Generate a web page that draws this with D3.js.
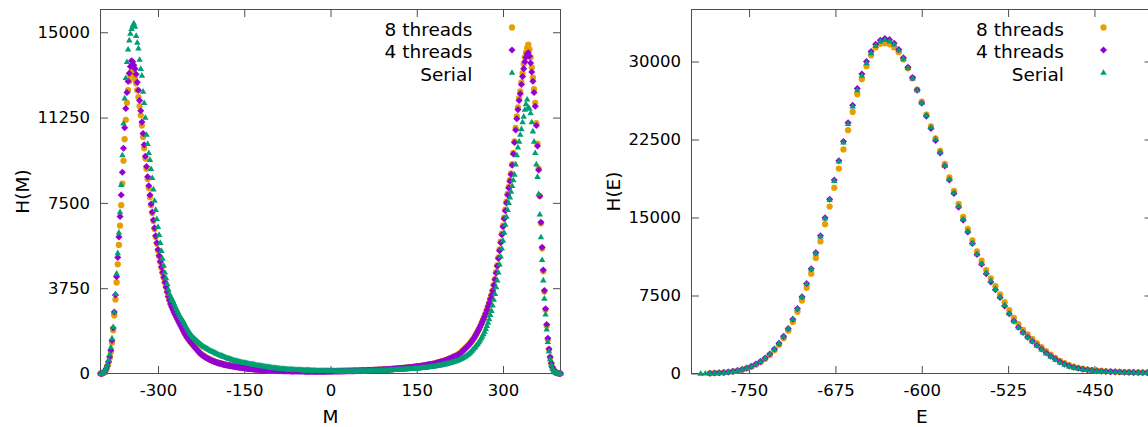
<!DOCTYPE html>
<html><head><meta charset="utf-8">
<script src="https://cdn.jsdelivr.net/npm/d3@7"></script>
<style>
body{margin:0;background:#fff}
svg{display:block}
text{font-family:"DejaVu Sans",sans-serif;fill:#000}
</style>
</head><body>
<svg id="chart" width="1148" height="427"></svg>
<script>
// ---------------- data ----------------
const SERIES_NAMES = ["8 threads", "4 threads", "Serial"];
const SERIES_COLORS = ["#e69f00", "#9400d3", "#009e73"];

const M_VALUES = d3.range(-400, 401, 2);

const H_M_8THREADS = [
  0, 3, 12, 40, 95, 190, 320, 480, 680, 950,
  1350, 1900, 2550, 3250, 4000, 4800, 5650, 6500, 7400, 8350,
  9350, 10300, 11150, 11900, 12450, 12850, 13100, 13300, 13250, 13100,
  12950, 12750, 12450, 12150, 11750, 11350, 10900, 10400, 9900, 9450,
  9000, 8550, 8150, 7750, 7400, 7050, 6700, 6350, 6000, 5700,
  5400, 5150, 4900, 4650, 4420, 4200, 3990, 3780, 3570, 3370,
  3200, 3060, 2930, 2810, 2700, 2600, 2500, 2400, 2300, 2200,
  2100, 2000, 1900, 1800, 1710, 1620, 1550, 1480, 1410, 1350,
  1290, 1230, 1170, 1110, 1050, 990, 930, 880, 840, 800,
  765, 730, 700, 670, 645, 620, 595, 572, 550, 530,
  512, 495, 478, 462, 448, 435, 422, 410, 398, 387,
  376, 365, 355, 345, 336, 327, 318, 310, 302, 294,
  286, 278, 270, 262, 255, 248, 241, 234, 228, 222,
  216, 210, 205, 200, 195, 190, 185, 181, 177, 173,
  169, 166, 163, 160, 157, 154, 151, 149, 147, 145,
  143, 141, 139, 137, 135, 133, 131, 130, 129, 128,
  127, 126, 125, 124, 123, 122, 121, 120, 119, 118,
  117, 116, 115, 115, 114, 114, 113, 113, 112, 112,
  111, 111, 110, 110, 110, 109, 109, 109, 108, 108,
  106, 110, 107, 109, 105, 108, 111, 106, 109, 107,
  108, 110, 106, 111, 109, 108, 113, 110, 112, 115,
  115, 116, 117, 118, 119, 120, 121, 122, 123, 124,
  125, 126, 128, 129, 131, 132, 134, 135, 137, 138,
  140, 142, 144, 146, 148, 150, 152, 154, 156, 158,
  160, 162, 165, 167, 170, 172, 175, 177, 180, 182,
  185, 189, 193, 197, 201, 205, 209, 213, 217, 221,
  225, 230, 235, 240, 245, 250, 255, 260, 265, 270,
  275, 281, 288, 294, 301, 307, 314, 320, 327, 333,
  340, 349, 358, 368, 377, 386, 396, 406, 416, 425,
  435, 448, 462, 476, 490, 505, 520, 535, 550, 565,
  580, 600, 620, 642, 665, 688, 712, 736, 760, 780,
  800, 835, 870, 910, 955, 1000, 1050, 1100, 1150, 1200,
  1250, 1310, 1375, 1440, 1510, 1580, 1670, 1760, 1855, 1950,
  2050, 2160, 2280, 2400, 2520, 2650, 2800, 2950, 3110, 3280,
  3450, 3650, 3900, 4150, 4450, 4750, 5100, 5450, 5800, 6150,
  6500, 6850, 7200, 7550, 7900, 8200, 8500, 8800, 9200, 9700,
  10200, 10800, 11300, 11700, 12100, 12400, 12800, 13200, 13600, 13900,
  14100, 14300, 14450, 14250, 13900, 13450, 13000, 12500, 11900, 11000,
  10100, 9000, 7800, 6600, 5500, 4500, 3600, 2800, 2100, 1500,
  1050, 700, 440, 270, 160, 90, 45, 20, 8, 2,
  0
];

const H_M_4THREADS = [
  0, 4, 15, 45, 105, 205, 345, 520, 740, 1020,
  1450, 2000, 2700, 3450, 4250, 5100, 6000, 6900, 7850, 8850,
  9900, 10800, 11650, 12350, 12850, 13200, 13500, 13750, 13700, 13550,
  13400, 13150, 12800, 12450, 12000, 11550, 11050, 10550, 10050, 9550,
  9100, 8650, 8250, 7850, 7450, 7100, 6750, 6400, 6050, 5750,
  5450, 5180, 4920, 4680, 4450, 4230, 4010, 3800, 3590, 3390,
  3220, 3050, 2920, 2800, 2690, 2590, 2480, 2380, 2280, 2180,
  2080, 1980, 1880, 1785, 1695, 1605, 1535, 1465, 1395, 1335,
  1275, 1215, 1155, 1095, 1035, 975, 918, 868, 828, 790,
  755, 720, 690, 660, 635, 610, 585, 562, 540, 520,
  502, 485, 468, 452, 438, 425, 412, 400, 388, 377,
  366, 355, 345, 335, 326, 317, 308, 300, 292, 284,
  276, 268, 260, 252, 245, 238, 231, 224, 218, 212,
  206, 200, 195, 190, 185, 180, 175, 171, 167, 163,
  159, 156, 153, 150, 147, 144, 141, 138, 136, 134,
  132, 130, 128, 126, 124, 122, 120, 118, 116, 114,
  112, 110, 108, 107, 106, 105, 104, 103, 102, 101,
  100, 99, 98, 97, 96, 95, 95, 94, 94, 93,
  93, 92, 92, 92, 91, 91, 91, 91, 91, 91,
  91, 89, 92, 90, 93, 91, 94, 92, 95, 93,
  95, 96, 94, 98, 97, 99, 98, 101, 100, 102,
  103, 104, 105, 106, 107, 108, 109, 110, 111, 112,
  114, 115, 117, 118, 120, 122, 124, 126, 128, 130,
  132, 134, 136, 138, 140, 142, 144, 146, 148, 150,
  152, 155, 158, 161, 164, 167, 170, 173, 176, 179,
  182, 186, 190, 194, 198, 202, 206, 210, 214, 218,
  222, 226, 231, 236, 241, 246, 251, 256, 261, 266,
  271, 277, 283, 289, 296, 302, 308, 314, 321, 327,
  334, 343, 352, 361, 370, 379, 389, 399, 408, 417,
  427, 440, 454, 467, 481, 496, 510, 525, 540, 555,
  570, 590, 610, 632, 655, 678, 702, 725, 748, 768,
  790, 825, 860, 900, 945, 990, 1040, 1090, 1140, 1190,
  1240, 1300, 1365, 1430, 1500, 1570, 1660, 1750, 1845, 1940,
  2040, 2150, 2270, 2390, 2510, 2640, 2790, 2940, 3100, 3270,
  3440, 3640, 3880, 4130, 4420, 4720, 5060, 5400, 5750, 6100,
  6450, 6800, 7150, 7500, 7850, 8150, 8450, 8750, 9150, 9650,
  10150, 10700, 11200, 11600, 12000, 12300, 12700, 13050, 13400, 13700,
  13900, 14050, 14100, 13950, 13650, 13250, 12850, 12350, 11750, 10900,
  10000, 8950, 7800, 6650, 5550, 4550, 3650, 2850, 2150, 1550,
  1080, 720, 455, 280, 165, 92, 46, 21, 8, 2,
  0
];

const H_M_SERIAL = [
  0, 5, 25, 65, 140, 250, 400, 600, 850, 1150,
  1550, 2050, 2700, 3500, 4400, 5300, 6200, 7100, 8300, 9600,
  11000, 12100, 13000, 13700, 14250, 14650, 14950, 15150, 15300, 15400,
  15250, 14850, 14550, 14300, 13800, 13400, 13100, 12400, 11900, 11250,
  10500, 10100, 9700, 9400, 9000, 8600, 8100, 7600, 7200, 6800,
  6450, 6100, 5750, 5400, 5050, 4750, 4450, 4200, 3950, 3700,
  3500, 3380, 3280, 3200, 3080, 2960, 2850, 2740, 2640, 2540,
  2450, 2370, 2300, 2200, 2100, 2010, 1920, 1840, 1760, 1690,
  1620, 1580, 1530, 1480, 1430, 1380, 1340, 1300, 1260, 1220,
  1180, 1150, 1120, 1090, 1060, 1030, 1005, 980, 955, 930,
  905, 880, 857, 835, 813, 792, 772, 752, 733, 712,
  690, 672, 655, 638, 622, 606, 590, 576, 562, 549,
  536, 523, 511, 499, 488, 477, 466, 456, 446, 436,
  427, 418, 409, 400, 390, 380, 370, 362, 354, 346,
  338, 330, 322, 314, 306, 298, 290, 282, 275, 268,
  261, 254, 247, 241, 235, 229, 224, 219, 214, 209,
  205, 201, 197, 193, 189, 185, 182, 179, 176, 173,
  170, 167, 164, 162, 160, 158, 156, 154, 152, 150,
  148, 146, 144, 142, 140, 138, 136, 134, 132, 131,
  130, 129, 128, 127, 126, 125, 124, 123, 122, 121,
  120, 119, 118, 117, 116, 115, 114, 114, 113, 113,
  112, 112, 111, 111, 111, 110, 110, 110, 110, 110,
  110, 110, 111, 111, 111, 112, 112, 113, 113, 114,
  115, 116, 117, 118, 119, 120, 121, 122, 123, 125,
  127, 129, 131, 133, 135, 137, 139, 141, 143, 146,
  149, 152, 155, 158, 161, 164, 167, 170, 173, 176,
  179, 182, 185, 188, 191, 194, 197, 200, 204, 208,
  212, 216, 220, 224, 228, 232, 236, 240, 245, 250,
  255, 260, 266, 272, 278, 285, 292, 299, 306, 314,
  322, 330, 339, 348, 357, 366, 376, 386, 397, 408,
  420, 432, 444, 456, 470, 485, 500, 516, 533, 551,
  570, 590, 612, 636, 662, 690, 720, 752, 786, 822,
  860, 905, 955, 1010, 1070, 1130, 1190, 1250, 1310, 1380,
  1460, 1550, 1640, 1740, 1850, 1970, 2100, 2240, 2400, 2580,
  2760, 3000, 3250, 3500, 3800, 4100, 4450, 4800, 5150, 5500,
  5850, 6200, 6550, 6900, 7200, 7500, 7750, 8000, 8250, 8500,
  8750, 9200, 9600, 9950, 10200, 10500, 10750, 11050, 11300, 11600,
  11850, 12050, 11700, 11650, 11450, 11050, 10650, 10200, 9700, 9200,
  8650, 7900, 7000, 6000, 5000, 4100, 3300, 2600, 1950, 1400,
  980, 640, 390, 230, 130, 70, 35, 15, 6, 2,
  0
];

const E_VALUES = d3.range(-792, -399, 4);

const H_E_8THREADS = [
  null, null, 25, 40, 60, 95, 140, 195, 270, 370,
  500, 660, 860, 1100, 1410, 1790, 2230, 2760, 3400, 4120,
  4960, 5930, 7020, 8240, 9600, 11100, 12700, 14350, 16050, 17850,
  19700, 21550, 23400, 25150, 26850, 28300, 29550, 30600, 31350, 31700,
  31750, 31650, 31350, 30900, 30200, 29350, 28400, 27300, 26150, 24900,
  23750, 22600, 21400, 20150, 18850, 17550, 16300, 15050, 13900, 12800,
  11750, 10850, 9950, 9150, 8400, 7600, 6850, 6100, 5350, 4750,
  4200, 3750, 3320, 2920, 2530, 2150, 1810, 1500, 1220, 990,
  800, 650, 540, 450, 380, 320, 275, 240, 210, 185,
  165, 148, 133, 120, 110, 100, 92, 85, 80
];

const H_E_4THREADS = [
  null, null, 28, 42, 68, 102, 148, 205, 285, 390,
  525, 695, 905, 1165, 1490, 1880, 2350, 2910, 3570, 4330,
  5220, 6240, 7380, 8660, 10080, 11620, 13250, 14980, 16750, 18600,
  20450, 22300, 24100, 25800, 27400, 28800, 30000, 30950, 31650, 32050,
  32200, 32100, 31750, 31150, 30350, 29450, 28450, 27250, 26000, 24750,
  23550, 22400, 21200, 19950, 18600, 17300, 16000, 14750, 13600, 12500,
  11450, 10500, 9600, 8800, 8050, 7300, 6500, 5750, 5050, 4450,
  3950, 3500, 3100, 2720, 2350, 1990, 1670, 1390, 1120, 900,
  730, 600, 500, 420, 355, 300, 258, 226, 200, 178,
  158, 142, 128, 116, 106, 97, 90, 84, 78
];

const H_E_SERIAL = [
  10, 18, 30, 45, 70, 105, 150, 210, 290, 395,
  530, 700, 910, 1170, 1500, 1890, 2360, 2920, 3580, 4340,
  5230, 6250, 7390, 8650, 10050, 11570, 13200, 14920, 16710, 18540,
  20400, 22230, 24010, 25700, 27260, 28660, 29850, 30820, 31520, 31950,
  32100, 31950, 31650, 31100, 30300, 29400, 28400, 27250, 26050, 24850,
  23700, 22550, 21300, 20000, 18700, 17400, 16100, 14850, 13700, 12550,
  11500, 10600, 9700, 8950, 8150, 7400, 6600, 5800, 5050, 4450,
  3950, 3500, 3100, 2700, 2320, 1950, 1640, 1350, 1080, 870,
  700, 580, 480, 410, 350, 300, 255, 225, 200, 180,
  160, 145, 130, 118, 108, 100, 92, 85, 80
];

const M_TICKS = [-300, -150, 0, 150, 300];
const HM_TICKS = [0, 3750, 7500, 11250, 15000];
const E_TICKS = [-750, -675, -600, -525, -450];
const HE_TICKS = [0, 7500, 15000, 22500, 30000];

// ---------------- drawing ----------------
const svg = d3.select("#chart");
const TICK = 7.5;
const BORDER = "#4d4d4d";

const diamond = {
  draw(ctx, size) {
    const r = Math.sqrt(size / 2);
    ctx.moveTo(0, -r); ctx.lineTo(r, 0); ctx.lineTo(0, r); ctx.lineTo(-r, 0); ctx.closePath();
  }
};
const triangle = {
  draw(ctx, size) {
    const s = Math.sqrt(size);
    const h = s * 0.866;
    ctx.moveTo(0, -h * 0.6); ctx.lineTo(s / 2, h * 0.4); ctx.lineTo(-s / 2, h * 0.4); ctx.closePath();
  }
};
const SYMBOLS = [d3.symbolCircle, diamond, triangle];
const SIZES = [31, 25, 42];

function panel(cfg) {
  const x = d3.scaleLinear().domain(cfg.xDomain).range([cfg.x0, cfg.x1]);
  const y = d3.scaleLinear().domain(cfg.yDomain).range([cfg.y1, cfg.y0]);
  const g = svg.append("g");

  const fmt = d => String(d);
  const axB = d3.axisBottom(x).tickValues(cfg.xTicks).tickSizeInner(-TICK).tickSizeOuter(0).tickPadding(11).tickFormat(fmt);
  const axT = d3.axisTop(x).tickValues(cfg.xTicks).tickSizeInner(-TICK).tickSizeOuter(0).tickFormat("");
  const axL = d3.axisLeft(y).tickValues(cfg.yTicks).tickSizeInner(-TICK).tickSizeOuter(0).tickPadding(10.5).tickFormat(fmt);
  const axR = d3.axisRight(y).tickValues(cfg.yTicks).tickSizeInner(-TICK).tickSizeOuter(0).tickFormat("");

  const gb = g.append("g").attr("transform", `translate(0,${cfg.y1})`).call(axB);
  const gt = g.append("g").attr("transform", `translate(0,${cfg.y0})`).call(axT);
  const gl = g.append("g").attr("transform", `translate(${cfg.x0},0)`).call(axL);
  const gr = g.append("g").attr("transform", `translate(${cfg.x1},0)`).call(axR);
  [gb, gt, gl, gr].forEach(a => {
    a.select(".domain").remove();
    a.selectAll(".tick line").attr("stroke", BORDER).attr("stroke-width", 1);
    a.selectAll(".tick text").attr("font-size", "16.5px").attr("font-family", '"DejaVu Sans", sans-serif').attr("fill", "#000");
  });

  g.append("rect")
    .attr("x", cfg.x0).attr("y", cfg.y0)
    .attr("width", cfg.x1 - cfg.x0).attr("height", cfg.y1 - cfg.y0)
    .attr("fill", "none").attr("stroke", BORDER).attr("stroke-width", 1);

  // points
  cfg.series.forEach((vals, si) => {
    const sym = d3.symbol().type(SYMBOLS[si]).size(SIZES[si]);
    const pts = cfg.xs.map((xv, i) => ({ x: xv, v: vals[i] })).filter(d => d.v !== null);
    g.append("g").selectAll("path").data(pts).join("path")
      .attr("d", sym)
      .attr("transform", d => `translate(${x(d.x)},${y(d.v)})`)
      .attr("fill", SERIES_COLORS[si]);
  });

  // legend
  const lg = g.append("g");
  SERIES_NAMES.forEach((name, si) => {
    const my = cfg.y0 + 18 + si * 22.5;
    lg.append("text").attr("x", cfg.x1 - 88).attr("y", my + 8.3)
      .attr("text-anchor", "end").attr("font-size", "18.5px").text(name);
    lg.append("path").attr("d", d3.symbol().type(SYMBOLS[si]).size(SIZES[si])())
      .attr("transform", `translate(${cfg.x1 - 48.5},${my})`).attr("fill", SERIES_COLORS[si]);
  });

  // axis titles
  g.append("text").attr("x", (cfg.x0 + cfg.x1) / 2).attr("y", 423)
    .attr("text-anchor", "middle").attr("font-size", "18.5px").text(cfg.xLabel);
  g.append("text").attr("transform", `translate(${cfg.x0 - 72},${(cfg.y0 + cfg.y1) / 2}) rotate(-90)`)
    .attr("text-anchor", "middle").attr("font-size", "18.5px").text(cfg.yLabel);
}

panel({
  x0: 100.5, x1: 560.5, y0: 9.5, y1: 373.5,
  xDomain: [-400, 400], yDomain: [0, 16000],
  xTicks: M_TICKS, yTicks: HM_TICKS,
  xs: M_VALUES, series: [H_M_8THREADS, H_M_4THREADS, H_M_SERIAL],
  xLabel: "M", yLabel: "H(M)"
});
panel({
  x0: 691.5, x1: 1152, y0: 9.5, y1: 373.5,
  xDomain: [-800, -400], yDomain: [0, 35000],
  xTicks: E_TICKS, yTicks: HE_TICKS,
  xs: E_VALUES, series: [H_E_8THREADS, H_E_4THREADS, H_E_SERIAL],
  xLabel: "E", yLabel: "H(E)"
});
</script>
</body></html>
